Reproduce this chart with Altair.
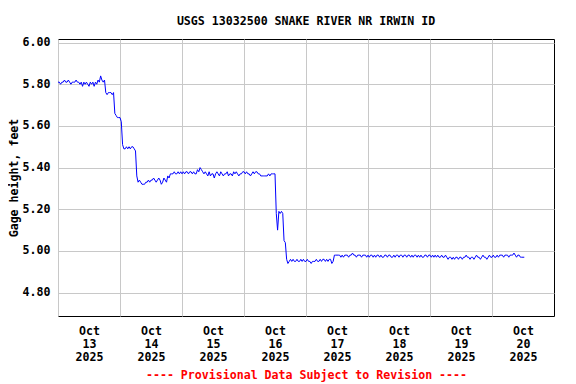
import altair as alt
import pandas as pd

# Half-hourly gage height readings starting 2025-10-13 00:00 (feet)
day13 = [5.81, 5.81, 5.80, 5.81, 5.81, 5.82, 5.81, 5.81, 5.82, 5.81, 5.80, 5.81,
         5.81, 5.81, 5.82, 5.81, 5.81, 5.80, 5.81, 5.79, 5.81, 5.80, 5.81, 5.80,
         5.79, 5.81, 5.80, 5.81, 5.79, 5.81, 5.80, 5.82, 5.81, 5.84, 5.82, 5.81,
         5.82, 5.76, 5.75, 5.76, 5.76, 5.76, 5.75, 5.76, 5.66, 5.65, 5.64, 5.64]
day14 = [5.64, 5.62, 5.51, 5.49, 5.49, 5.50, 5.49, 5.50, 5.49, 5.50, 5.50, 5.49,
         5.48, 5.36, 5.33, 5.34, 5.33, 5.32, 5.32, 5.32, 5.33, 5.33, 5.34, 5.33,
         5.34, 5.34, 5.35, 5.34, 5.33, 5.34, 5.35, 5.34, 5.32, 5.33, 5.35, 5.34,
         5.33, 5.36, 5.35, 5.37, 5.37, 5.37, 5.38, 5.37, 5.37, 5.38, 5.37, 5.38]
day15 = [5.37, 5.38, 5.37, 5.38, 5.38, 5.37, 5.38, 5.38, 5.37, 5.38, 5.37, 5.37,
         5.39, 5.38, 5.40, 5.39, 5.38, 5.37, 5.38, 5.37, 5.36, 5.38, 5.36, 5.37,
         5.37, 5.35, 5.37, 5.38, 5.37, 5.36, 5.38, 5.37, 5.36, 5.37, 5.37, 5.38,
         5.36, 5.37, 5.37, 5.36, 5.38, 5.37, 5.38, 5.37, 5.36, 5.37, 5.37, 5.38]
day16 = [5.38, 5.37, 5.38, 5.37, 5.37, 5.36, 5.37, 5.38, 5.37, 5.38, 5.38, 5.37,
         5.37, 5.36, 5.36, 5.36, 5.36, 5.36, 5.36, 5.37, 5.36, 5.37, 5.37, 5.37,
         5.37, 5.18, 5.10, 5.19, 5.18, 5.19, 5.18, 5.05, 5.04, 4.96, 4.94, 4.95,
         4.96, 4.95, 4.96, 4.95, 4.95, 4.96, 4.95, 4.95, 4.96, 4.95, 4.96, 4.95]
day17 = [4.95, 4.96, 4.95, 4.95, 4.94, 4.95, 4.95, 4.95, 4.96, 4.95, 4.95, 4.96,
         4.95, 4.96, 4.96, 4.95, 4.96, 4.95, 4.96, 4.96, 4.94, 4.95, 4.98, 4.98,
         4.98, 4.98, 4.98, 4.97, 4.98, 4.97, 4.98, 4.98, 4.98, 4.97, 4.98, 4.98,
         4.99, 4.98, 4.98, 4.97, 4.98, 4.98, 4.98, 4.97, 4.98, 4.98, 4.98, 4.97]
day18 = [4.98, 4.97, 4.98, 4.98, 4.97, 4.98, 4.97, 4.98, 4.98, 4.97, 4.98, 4.97,
         4.97, 4.98, 4.98, 4.97, 4.98, 4.98, 4.97, 4.97, 4.98, 4.97, 4.98, 4.98,
         4.97, 4.98, 4.98, 4.97, 4.98, 4.98, 4.97, 4.98, 4.98, 4.97, 4.98, 4.97,
         4.98, 4.98, 4.97, 4.98, 4.97, 4.98, 4.97, 4.97, 4.98, 4.98, 4.97, 4.98]
day19 = [4.98, 4.97, 4.98, 4.97, 4.98, 4.97, 4.98, 4.97, 4.97, 4.98, 4.97, 4.97,
         4.98, 4.97, 4.96, 4.97, 4.97, 4.96, 4.97, 4.96, 4.97, 4.97, 4.96, 4.97,
         4.97, 4.96, 4.97, 4.97, 4.98, 4.97, 4.97, 4.96, 4.97, 4.97, 4.96, 4.97,
         4.98, 4.97, 4.97, 4.96, 4.97, 4.98, 4.97, 4.97, 4.96, 4.97, 4.98, 4.97]
day20 = [4.97, 4.98, 4.97, 4.97, 4.98, 4.97, 4.98, 4.98, 4.98, 4.97, 4.98, 4.98,
         4.98, 4.97, 4.98, 4.98, 4.98, 4.99, 4.98, 4.97, 4.98, 4.98, 4.97, 4.97,
         4.97, 4.97]

values = day13 + day14 + day15 + day16 + day17 + day18 + day19 + day20
times = pd.date_range("2025-10-13 00:00", periods=len(values), freq="30min")
df = pd.DataFrame({"time": times.strftime("%Y-%m-%dT%H:%M:%S"), "gage": values})

day_ticks = [f"2025-10-{d}T00:00:00" for d in range(13, 21)]
y_ticks = [4.80, 5.00, 5.20, 5.40, 5.60, 5.80, 6.00]

FONT = "DejaVu Sans Mono"

chart = alt.Chart(df).mark_line(
    color="#0000ff", strokeWidth=1
).encode(
    x=alt.X(
        "time:T",
        scale=alt.Scale(domain=["2025-10-13T00:00:00", "2025-10-21T00:00:00"], nice=False),
        axis=alt.Axis(
            values=day_ticks,
            labelExpr="[timeFormat(datum.value, '%b'), timeFormat(datum.value, '%d'), timeFormat(datum.value, '%Y')]",
            labelOffset=31,
            labelPadding=9,
            labelLineHeight=13,
            ticks=False,
            domain=False,
            grid=True,
            labelFlush=False,
            labelOverlap=False,
            title="---- Provisional Data Subject to Revision ----",
            titleColor="#ff0000",
            titlePadding=7,
        ),
    ),
    y=alt.Y(
        "gage:Q",
        scale=alt.Scale(domain=[4.688, 6.017], nice=False, zero=False),
        axis=alt.Axis(
            values=y_ticks,
            format=".2f",
            ticks=False,
            domain=False,
            grid=True,
            labelPadding=8,
            title="Gage height, feet",
            titlePadding=3,
        ),
    ),
).properties(
    width=496,
    height=277,
    title=alt.TitleParams(
        "USGS 13032500 SNAKE RIVER NR IRWIN ID",
        font=FONT, fontSize=11.6, fontWeight="bold", color="#000000",
        anchor="middle", offset=9,
    ),
    autosize=alt.AutoSizeParams(type="none"),
    padding={"left": 50, "top": 31, "right": 14, "bottom": 68},
).configure_view(
    stroke="#000000", strokeWidth=1
).configure_axis(
    labelFont=FONT, labelFontSize=11.6, labelFontWeight="bold", labelColor="#000000",
    titleFont=FONT, titleFontSize=11.6, titleFontWeight="bold", titleColor="#000000",
    gridColor="#c8c8c8", gridWidth=1, gridOpacity=1,
).configure_axisX(
    titleColor="#ff0000"
)

chart.save("out.html", embed_options={"renderer": "svg", "actions": False})
